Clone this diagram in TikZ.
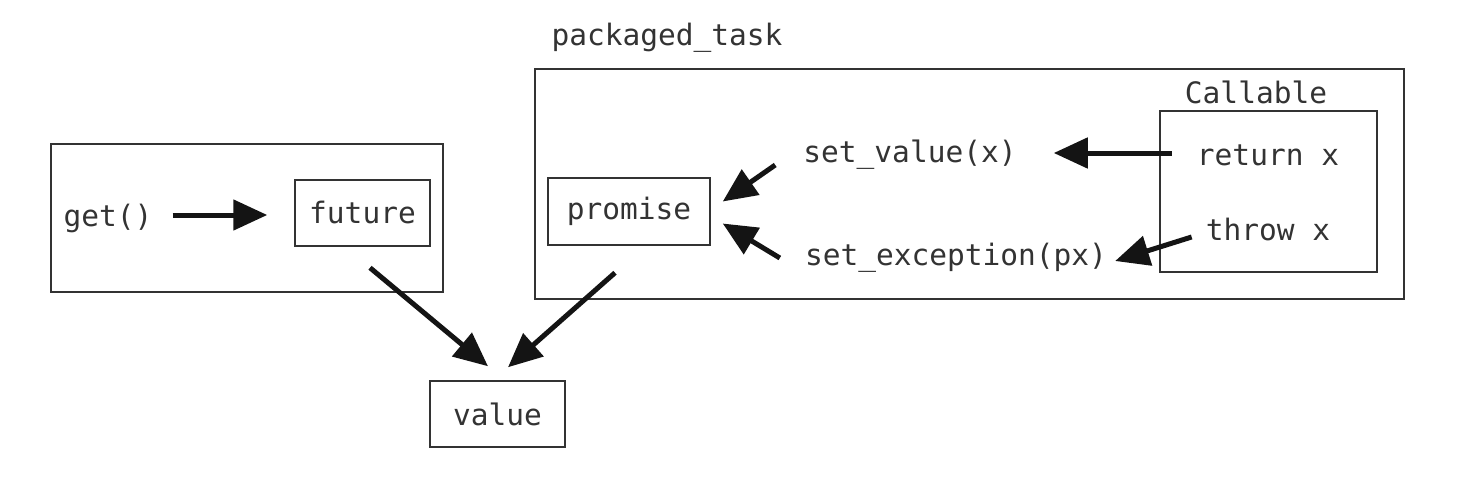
\documentclass[tikz,border=0pt]{standalone}
\usepackage{fontspec}
\setmonofont{DejaVu Sans Mono}
\usetikzlibrary{arrows.meta}
\begin{document}
\begin{tikzpicture}[x=1pt,y=-1pt,
  txt/.style={inner sep=0pt,font=\ttfamily\fontsize{29.5}{35}\selectfont,text=black!80},
  box/.style={draw=black!80,line width=1.5pt,inner sep=0pt},
  arr/.style={line width=5pt,draw=black!92,-{Triangle[length=34pt,width=30pt]}}]
\useasboundingbox (0,0) rectangle (1466,484);
% outer boxes
\node[box,minimum width=392pt,minimum height=148pt] (lbox) at (247,218) {};
\node[box,minimum width=869pt,minimum height=230pt] (pbox) at (969.5,184) {};
\node[box,minimum width=217pt,minimum height=161pt] (cbox) at (1268.5,191.5) {};
% labels
\node[txt] (ptl) at (667,38) {packaged\_task};
\node[txt] (cal) at (1256,92) {Callable};
% inner boxes
\node[box,txt,draw=black!80,minimum width=135pt,minimum height=66pt] (future) at (362.5,213) {future};
\node[box,txt,draw=black!80,minimum width=162pt,minimum height=67pt] (promise) at (629,211.5) {promise};
\node[box,txt,draw=black!80,minimum width=135pt,minimum height=66pt] (value) at (497.5,414) {value};
% texts
\node[txt] (get) at (108,218) {get()};
\node[txt] (setv) at (910,155) {set\_value(x)};
\node[txt] (setx) at (956,258) {set\_exception(px)};
\node[txt] (ret) at (1268,155) {return x};
\node[txt] (thr) at (1268,230) {throw x};
% arrows
\draw[arr] ([xshift=20pt,yshift=3pt]get.east) -- ([xshift=-27pt,yshift=-2pt]future.west);
\draw[arr] ([xshift=7.5pt,yshift=-21pt]future.south) -- ([xshift=-9.5pt,yshift=14pt]value.north);
\draw[arr] ([xshift=-14pt,yshift=-27pt]promise.south) -- ([xshift=10.5pt,yshift=13pt]value.north);
\draw[arr] ([xshift=-28pt,yshift=-10pt]setv.west) -- ([xshift=12pt,yshift=10pt]promise.east);
\draw[arr] ([xshift=-25pt]setx.west) -- ([xshift=12pt,yshift=-12pt]promise.east);
\draw[arr] ([xshift=-25pt,yshift=2pt]ret.west) -- ([xshift=37pt,yshift=2pt]setv.east);
\draw[arr] ([xshift=-14pt,yshift=-7pt]thr.west) -- ([xshift=8pt,yshift=-3pt]setx.east);
\end{tikzpicture}
\end{document}
